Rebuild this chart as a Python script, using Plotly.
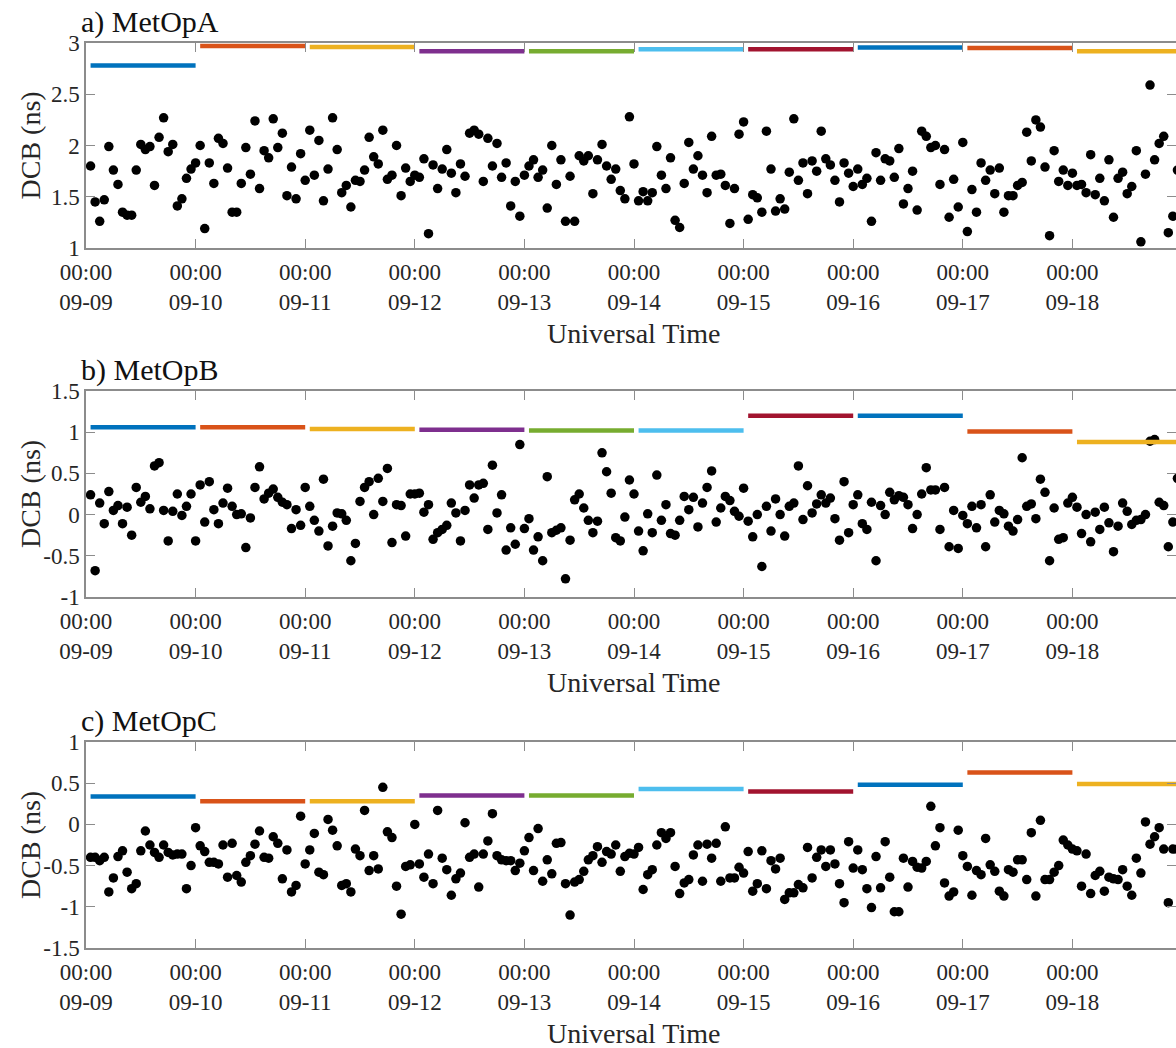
import plotly.graph_objects as go
from datetime import datetime, timedelta

# ---------------- data ----------------
DAY_LABELS = ["09-09", "09-10", "09-11", "09-12", "09-13",
              "09-14", "09-15", "09-16", "09-17", "09-18"]
PANEL_TITLES = ["a) MetOpA", "b) MetOpB", "c) MetOpC"]

# hourly DCB estimates (01:00 .. 24:00 of each day), ns
A_DCB = [
    1.80, 1.45, 1.26, 1.47, 1.99, 1.76, 1.62, 1.35, 1.32, 1.32, 1.76, 2.01, 1.96, 1.99, 1.61, 2.08, 2.27, 1.94, 2.01, 1.41, 1.48, 1.68, 1.77, 1.83,
    2.00, 1.19, 1.83, 1.63, 2.07, 2.02, 1.78, 1.35, 1.35, 1.63, 1.98, 1.72, 2.24, 1.58, 1.95, 1.88, 2.26, 1.98, 2.12, 1.51, 1.79, 1.48, 1.92, 1.66,
    2.15, 1.71, 2.05, 1.46, 1.77, 2.27, 1.96, 1.54, 1.61, 1.40, 1.66, 1.65, 1.76, 2.08, 1.89, 1.82, 2.15, 1.67, 1.71, 2.00, 1.51, 1.78, 1.65, 1.71,
    1.69, 1.87, 1.14, 1.81, 1.58, 1.77, 1.96, 1.73, 1.54, 1.82, 1.70, 2.12, 2.15, 2.11, 1.65, 2.07, 1.80, 2.02, 1.69, 1.83, 1.41, 1.65, 1.31, 1.71,
    1.80, 1.86, 1.69, 1.76, 1.39, 2.00, 1.62, 1.86, 1.26, 1.70, 1.26, 1.90, 1.85, 1.90, 1.53, 1.86, 2.01, 1.80, 1.67, 1.77, 1.56, 1.48, 2.28, 1.82,
    1.46, 1.55, 1.46, 1.54, 1.99, 1.71, 1.58, 1.88, 1.27, 1.20, 1.63, 2.03, 1.77, 1.90, 1.71, 1.54, 2.09, 1.71, 1.72, 1.61, 1.24, 1.58, 2.11, 2.23,
    1.28, 1.52, 1.49, 1.35, 2.14, 1.77, 1.36, 1.48, 1.38, 1.74, 2.26, 1.66, 1.83, 1.53, 1.85, 1.75, 2.14, 1.87, 1.81, 1.66, 1.45, 1.83, 1.73, 1.60,
    1.77, 1.62, 1.68, 1.26, 1.93, 1.66, 1.87, 1.85, 1.69, 1.97, 1.43, 1.58, 1.75, 1.37, 2.14, 2.09, 1.98, 2.00, 1.62, 1.96, 1.30, 1.67, 1.40, 2.03,
    1.16, 1.57, 1.35, 1.83, 1.66, 1.76, 1.53, 1.78, 1.35, 1.51, 1.51, 1.61, 1.64, 2.13, 1.85, 2.25, 2.18, 1.79, 1.12, 1.95, 1.65, 1.76, 1.61, 1.73,
    1.61, 1.62, 1.54, 1.91, 1.52, 1.68, 1.46, 1.86, 1.30, 1.68, 1.74, 1.53, 1.60, 1.95, 1.06, 1.72, 2.59, 1.86, 2.02, 2.09, 1.15, 1.31, 1.76, 1.75,
]
B_DCB = [
    0.24, -0.68, 0.14, -0.11, 0.28, 0.05, 0.11, -0.11, 0.09, -0.25, 0.33, 0.15, 0.22, 0.07, 0.59, 0.63, 0.05, -0.32, 0.04, 0.25, -0.01, 0.10, 0.25, -0.32,
    0.36, -0.09, 0.40, 0.06, -0.11, 0.14, 0.32, 0.10, 0.00, 0.01, -0.40, -0.04, 0.33, 0.58, 0.19, 0.26, 0.31, 0.21, 0.15, 0.12, -0.17, 0.06, -0.13, 0.33,
    0.10, -0.07, -0.20, 0.43, -0.38, -0.14, 0.02, 0.01, -0.07, -0.56, -0.35, 0.16, 0.33, 0.40, 0.00, 0.44, 0.16, 0.56, -0.34, 0.12, 0.11, -0.26, 0.25, 0.25,
    0.26, 0.03, 0.12, -0.30, -0.22, -0.18, -0.13, 0.14, 0.02, -0.32, 0.05, 0.36, 0.20, 0.36, 0.38, -0.18, 0.60, 0.02, 0.24, -0.43, -0.16, -0.36, 0.85, -0.17,
    -0.05, -0.43, -0.27, -0.56, 0.46, -0.22, -0.19, -0.16, -0.78, -0.31, 0.18, 0.25, 0.08, -0.07, -0.22, -0.08, 0.75, 0.52, 0.26, -0.28, -0.32, -0.03, 0.42, 0.25,
    -0.20, -0.44, 0.01, -0.22, 0.48, -0.07, 0.12, -0.23, -0.25, -0.07, 0.22, 0.06, 0.21, -0.15, 0.14, 0.33, 0.53, -0.09, 0.08, 0.22, 0.17, 0.04, -0.02, 0.32,
    -0.08, -0.27, 0.00, -0.63, 0.10, -0.20, 0.19, 0.00, -0.26, 0.10, 0.14, 0.59, -0.06, 0.35, 0.02, 0.13, 0.24, 0.14, 0.20, -0.05, -0.31, 0.40, -0.22, 0.12,
    0.24, -0.11, -0.18, 0.15, -0.56, 0.11, 0.00, 0.27, 0.18, 0.23, 0.21, 0.12, -0.17, 0.00, 0.25, 0.57, 0.30, 0.30, -0.18, 0.33, -0.39, 0.05, -0.41, -0.01,
    -0.11, 0.10, -0.16, 0.12, -0.39, 0.24, -0.09, 0.05, 0.01, -0.14, -0.20, -0.06, 0.69, 0.10, 0.13, -0.05, 0.43, 0.27, -0.56, 0.08, -0.30, -0.28, 0.14, 0.21,
    0.09, -0.23, 0.00, -0.33, 0.03, -0.18, 0.09, -0.10, -0.45, -0.14, 0.14, 0.04, -0.12, -0.07, -0.06, 0.00, 0.89, 0.91, 0.15, 0.11, -0.39, -0.09, 0.44, 0.10,
]
C_DCB = [
    -0.40, -0.40, -0.44, -0.40, -0.82, -0.65, -0.39, -0.32, -0.58, -0.78, -0.72, -0.32, -0.08, -0.25, -0.34, -0.40, -0.25, -0.34, -0.37, -0.36, -0.36, -0.78, -0.50, -0.04,
    -0.26, -0.33, -0.46, -0.46, -0.48, -0.25, -0.64, -0.23, -0.62, -0.70, -0.46, -0.38, -0.24, -0.08, -0.40, -0.41, -0.15, -0.23, -0.66, -0.31, -0.82, -0.74, 0.10, -0.48,
    -0.31, -0.11, -0.58, -0.61, 0.06, -0.07, -0.26, -0.74, -0.72, -0.82, -0.30, -0.38, 0.17, -0.56, -0.38, -0.54, 0.45, -0.09, -0.16, -0.75, -1.09, -0.51, -0.49, 0.00,
    -0.48, -0.64, -0.36, -0.72, 0.17, -0.41, -0.55, -0.86, -0.66, -0.59, 0.02, -0.40, -0.36, -0.76, -0.36, -0.20, 0.13, -0.38, -0.43, -0.44, -0.44, -0.56, -0.47, -0.32,
    -0.16, -0.56, -0.05, -0.69, -0.43, -0.60, -0.23, -0.22, -0.72, -1.10, -0.70, -0.67, -0.57, -0.43, -0.38, -0.27, -0.46, -0.33, -0.36, -0.25, -0.57, -0.39, -0.35, -0.36,
    -0.28, -0.79, -0.61, -0.55, -0.25, -0.10, -0.17, -0.10, -0.51, -0.84, -0.71, -0.67, -0.37, -0.25, -0.69, -0.24, -0.41, -0.23, -0.69, -0.03, -0.65, -0.65, -0.52, -0.59,
    -0.33, -0.81, -0.72, -0.32, -0.78, -0.44, -0.54, -0.41, -0.91, -0.83, -0.83, -0.73, -0.77, -0.28, -0.65, -0.40, -0.31, -0.51, -0.31, -0.48, -0.72, -0.95, -0.21, -0.53,
    -0.31, -0.55, -0.78, -1.01, -0.39, -0.77, -0.21, -0.64, -1.06, -1.06, -0.41, -0.76, -0.45, -0.52, -0.53, -0.45, 0.22, -0.26, -0.04, -0.71, -0.87, -0.82, -0.07, -0.38,
    -0.51, -0.86, -0.56, -0.61, -0.17, -0.49, -0.57, -0.81, -0.87, -0.55, -0.58, -0.43, -0.43, -0.67, -0.10, -0.87, 0.05, -0.67, -0.67, -0.58, -0.50, -0.19, -0.25, -0.30,
    -0.32, -0.75, -0.36, -0.84, -0.62, -0.57, -0.81, -0.64, -0.66, -0.67, -0.55, -0.75, -0.86, -0.41, -0.59, 0.03, -0.24, -0.15, -0.04, -0.30, -0.95, -0.30, -0.30, -0.30,
]

# daily DCB (one per day)
A_DAILY = [2.78, 2.97, 2.96, 2.92, 2.92, 2.94, 2.94, 2.955, 2.95, 2.92]
B_DAILY = [1.06, 1.06, 1.04, 1.03, 1.02, 1.02, 1.20, 1.20, 1.01, 0.88]
C_DAILY = [0.34, 0.28, 0.28, 0.35, 0.35, 0.43, 0.40, 0.48, 0.63, 0.49]

A_YTICKS = [1, 1.5, 2, 2.5, 3]
B_YTICKS = [-1, -0.5, 0, 0.5, 1, 1.5]
C_YTICKS = [-1.5, -1, -0.5, 0, 0.5, 1]

DAY_COLORS = ["#0072BD", "#D95319", "#EDB120", "#7E2F8E", "#77AC30",
              "#4DBEEE", "#A2142F", "#0072BD", "#D95319", "#EDB120"]

# ---------------- figure ----------------
W, H = 1176, 1048
BASE = datetime(2020, 9, 9)
times = [BASE + timedelta(days=d, hours=h) for d in range(10) for h in range(1, 25)]
tickvals = [BASE + timedelta(days=d) for d in range(10)]
ticktext = [f"00:00<br>{lbl}" for lbl in DAY_LABELS]
x_end = BASE + timedelta(days=(W - 86) / 109.6)

FONT = "Liberation Serif, Times New Roman, serif"
TXT = "#262626"
AX = "#8c8c8c"

panels = [
    (A_DCB, A_DAILY, A_YTICKS, (43, 248)),
    (B_DCB, B_DAILY, B_YTICKS, (391, 597)),
    (C_DCB, C_DAILY, C_YTICKS, (742, 948)),
]

fig = go.Figure()
annotations = []
layout_axes = {}
for i, (vals, daily, yt, (ptop, pbot)) in enumerate(panels):
    s = "" if i == 0 else str(i + 1)
    xa, ya = "x" + s, "y" + s
    fig.add_trace(go.Scatter(
        x=times, y=vals, mode="markers", xaxis=xa, yaxis=ya,
        marker=dict(color="black", size=9.5), showlegend=False, hoverinfo="x+y"))
    for d in range(10):
        fig.add_trace(go.Scatter(
            x=[times[d * 24], times[d * 24 + 23]], y=[daily[d], daily[d]],
            mode="lines", xaxis=xa, yaxis=ya,
            line=dict(color=DAY_COLORS[d], width=4.5), showlegend=False))
    dom = [1 - pbot / H, 1 - ptop / H]
    layout_axes["xaxis" + s] = dict(
        domain=[86 / W, 1], range=[BASE, x_end], anchor=ya,
        tickmode="array", tickvals=tickvals, ticktext=ticktext,
        ticks="inside", ticklen=9, tickwidth=1.3, tickcolor=AX,
        showline=True, linecolor=AX, linewidth=1.5, mirror="ticks",
        showgrid=False, zeroline=False, automargin=False,
        ticklabelstandoff=3,
        tickfont=dict(family=FONT, size=23, color=TXT))
    layout_axes["yaxis" + s] = dict(
        domain=dom, range=[yt[0], yt[-1]], anchor=xa,
        tickmode="array", tickvals=yt, ticktext=[f"{v:g}" for v in yt],
        ticks="inside", ticklen=9, tickwidth=1.3, tickcolor=AX,
        showline=True, linecolor=AX, linewidth=1.5, mirror="ticks",
        showgrid=False, zeroline=False, automargin=False,
        tickfont=dict(family=FONT, size=23, color=TXT))
    annotations.append(dict(
        text=PANEL_TITLES[i], xref="paper", yref="paper",
        x=79 / W, y=1 - (ptop - 21) / H, xanchor="left", yanchor="middle",
        showarrow=False, font=dict(family=FONT, size=30, color="#111111")))
    annotations.append(dict(
        text="DCB (ns)", xref="paper", yref="paper", textangle=-90,
        x=30 / W, y=1 - ((ptop + pbot) / 2) / H, xanchor="center", yanchor="middle",
        showarrow=False, font=dict(family=FONT, size=28, color=TXT)))
    annotations.append(dict(
        text="Universal Time", xref="paper", yref="paper",
        x=633 / W, y=1 - (pbot + 85) / H, xanchor="center", yanchor="middle",
        showarrow=False, font=dict(family=FONT, size=28, color=TXT)))

fig.update_layout(
    width=W, height=H,
    margin=dict(l=0, r=0, t=0, b=0, pad=0),
    paper_bgcolor="white", plot_bgcolor="white",
    showlegend=False, annotations=annotations,
    **layout_axes)

fig.write_html(
    "out.html",
    config={"displayModeBar": False},
    post_script="document.body.style.margin='0';document.body.style.overflow='hidden';")
